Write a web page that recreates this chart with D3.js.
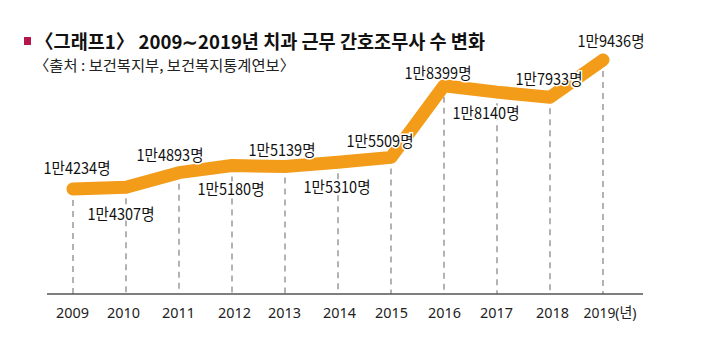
<!DOCTYPE html>
<html><head><meta charset="utf-8">
<script src="https://cdn.jsdelivr.net/npm/d3@7"></script>
<style>body{margin:0;background:#fff}svg{display:block}text{font-family:"Noto Sans CJK KR","Noto Sans",sans-serif}</style>
</head><body>
<script>
const years = ["2009","2010","2011","2012","2013","2014","2015","2016","2017","2018","2019"];
const values = [14234,14307,14893,15180,15139,15310,15509,18399,18140,17933,19436];
const labels = ["1만4234명","1만4307명","1만4893명","1만5180명","1만5139명","1만5310명","1만5509명","1만8399명","1만8140명","1만7933명","1만9436명"];
const title = "〈그래프1〉 2009∼2019년 치과 근무 간호조무사 수 변화";
const subtitle = "〈출처 : 보건복지부, 보건복지통계연보〉";
const yearUnit = "(년)";

const W=720,H=352;
const svg=d3.select("body").append("svg").attr("width",W).attr("height",H);
const x=d3.scalePoint().domain(years).range([73,603]);
const y=d3.scaleLinear().domain([10000,20000]).range([294,46]);
const baseY=294;

// title
svg.append("rect").attr("x",24).attr("y",37).attr("width",7).attr("height",8).attr("fill","#b5174b");
svg.append("text").attr("x",35).attr("y",49).attr("font-size",19).attr("font-weight",700)
  .attr("fill","#111").attr("textLength",450).attr("lengthAdjust","spacingAndGlyphs").text(title);
svg.append("text").attr("x",34).attr("y",71).attr("font-size",15)
  .attr("fill","#222").attr("textLength",261).attr("lengthAdjust","spacingAndGlyphs").text(subtitle);

// dashed guides
svg.selectAll("line.g").data(years).join("line").attr("class","g")
  .attr("x1",d=>x(d)).attr("x2",d=>x(d))
  .attr("y1",(d,i)=>y(values[i])).attr("y2",baseY)
  .attr("stroke","#8a8a8a").attr("stroke-width",1.3).attr("stroke-dasharray","6,5");

// axis
const axis=d3.axisBottom(x).tickSize(0).tickFormat(d=>d);
const ag=svg.append("g").attr("transform",`translate(0,${baseY})`).call(axis);
ag.select(".domain").remove();
svg.append("line").attr("x1",47).attr("x2",643).attr("y1",baseY).attr("y2",baseY).attr("stroke","#555").attr("stroke-width",1.6);
const last=years.length-1;
ag.selectAll(".tick text").attr("font-size",15).attr("fill","#222")
  .attr("dy",null).attr("y",18).attr("dominant-baseline","central")
  .style("font-family","'Noto Sans','Noto Sans CJK KR',sans-serif")
  .text((d,i)=> i===last ? d+yearUnit : d)
  .attr("text-anchor",(d,i)=> i===last ? "start":"middle")
  .attr("x",(d,i)=> i===last ? -20 : [ -1,-3,-1,2,-1,1,0,0,-1,2 ][i])
  .attr("textLength",(d,i)=> i===last ? 53 : 33).attr("lengthAdjust","spacingAndGlyphs");

// line
const line=d3.line().x((d,i)=>x(years[i])).y(d=>y(d));
svg.append("path").datum(values).attr("d",line).attr("fill","none")
  .attr("stroke","#f39c1a").attr("stroke-width",13).attr("stroke-linecap","round").attr("stroke-linejoin","round");

// labels
const dx=[4,-5,-9,-1,-3,-1,-11,-6,-11,-1,8];
const dy=[-22,26,-19,22,-18,24,-17,-14,20,-19,-20];
svg.selectAll("text.lbl").data(values).join("text").attr("class","lbl")
  .attr("x",(d,i)=>x(years[i])+dx[i]).attr("y",(d,i)=>y(d)+dy[i])
  .attr("text-anchor","middle").attr("dominant-baseline","central")
  .attr("font-size",16).attr("fill","#111")
  .attr("stroke","#fff").attr("stroke-width",3).attr("paint-order","stroke")
  .attr("textLength",67).attr("lengthAdjust","spacingAndGlyphs")
  .text((d,i)=>labels[i]);
</script>
</body></html>
